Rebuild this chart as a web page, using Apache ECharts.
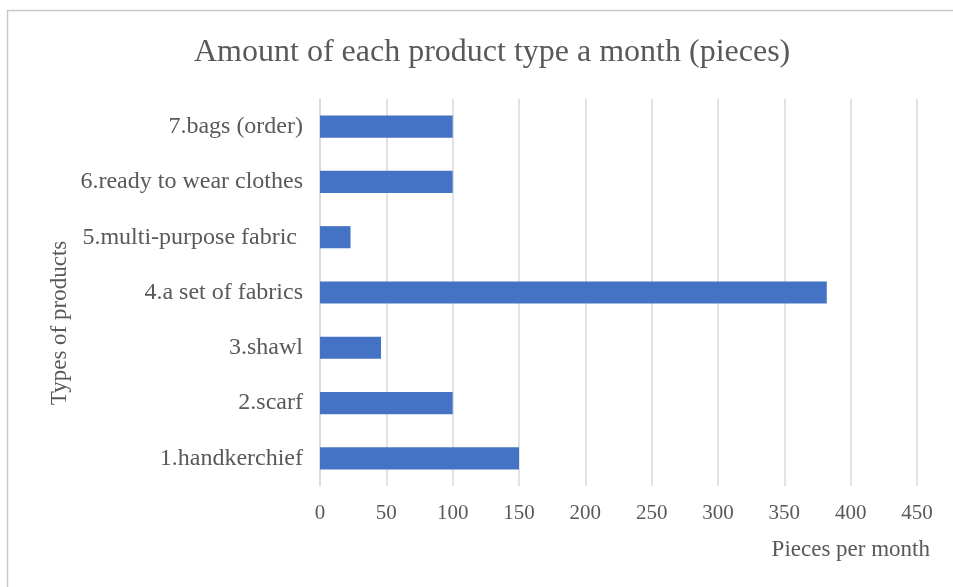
<!DOCTYPE html>
<html>
<head>
<meta charset="utf-8">
<script src="https://cdn.jsdelivr.net/npm/echarts@6/dist/echarts.min.js"></script>
<style>html,body{margin:0;padding:0;background:#fff;}#c{width:953px;height:587px;}</style>
</head>
<body>
<div id="c"></div>
<script>
const titleText = 'Amount of each product type a month (pieces)';
const categories = ['1.handkerchief', '2.scarf', '3.shawl', '4.a set of fabrics', '5.multi-purpose fabric ', '6.ready to wear clothes', '7.bags (order)'];
const values = [150, 100, 46, 382, 23, 100, 100];
const xTicks = { min: 0, max: 450, interval: 50 };
const xName = 'Pieces per month';
const yName = 'Types of products';

const FONT = '"Liberation Serif", "DejaVu Serif", serif';
const TXT = '#595959';
const chart = echarts.init(document.getElementById('c'), null, { renderer: 'canvas' });
chart.setOption({
  backgroundColor: '#fff',
  animation: false,
  title: {
    text: titleText, left: 189, top: 32,
    textStyle: { fontFamily: FONT, fontSize: 32, fontWeight: 'normal', color: TXT }
  },
  graphic: [
    { type: 'rect', shape: { x: 7.5, y: 10.5, width: 960, height: 590 }, style: { fill: 'none', stroke: '#c8c8c8', lineWidth: 1.5 }, silent: true },
    { type: 'text', x: 60, y: 323, rotation: Math.PI / 2, style: { text: yName, font: '23px ' + FONT, fill: TXT, textAlign: 'center', textVerticalAlign: 'middle' } },
    { type: 'text', x: 930, y: 550, style: { text: xName, font: '23px ' + FONT, fill: TXT, textAlign: 'right', textVerticalAlign: 'middle' } }
  ],
  grid: { left: 320, right: 36, top: 99, bottom: 101, containLabel: false },
  xAxis: {
    type: 'value', min: xTicks.min, max: xTicks.max, interval: xTicks.interval,
    axisLine: { show: false }, axisTick: { show: false },
    splitLine: { lineStyle: { color: '#d9d9d9', width: 1.5 } },
    axisLabel: { margin: 17, fontFamily: FONT, fontSize: 21, color: TXT }
  },
  yAxis: {
    type: 'category', data: categories,
    axisLine: { lineStyle: { color: '#d9d9d9', width: 1.5 } },
    axisTick: { show: false },
    axisLabel: { margin: 17, fontFamily: FONT, fontSize: 24, color: TXT }
  },
  series: [{
    type: 'bar', data: values, barWidth: '40%',
    itemStyle: { color: '#4472C4' }
  }]
});
</script>
</body>
</html>
